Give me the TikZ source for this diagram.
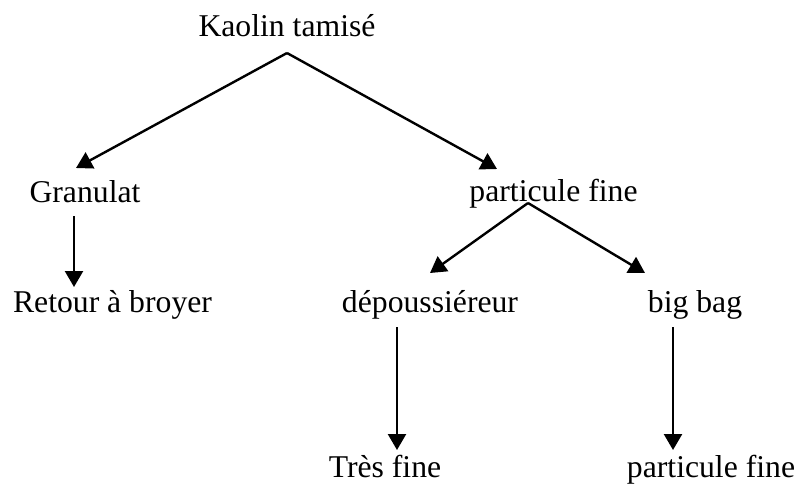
\documentclass[tikz,border=0pt]{standalone}
\usepackage{fontspec}
\setmainfont{Liberation Serif}
\usetikzlibrary{arrows.meta}
\begin{document}
\begin{tikzpicture}[x=1pt,y=-1pt,
  lbl/.style={anchor=base,inner sep=0pt,font=\fontsize{31.7}{36}\selectfont},
  arr/.style={line width=2.4pt,-{Triangle[width=18pt,length=16pt]}}]
\useasboundingbox (0,0) rectangle (803,483);
% labels
\node[lbl] (kaolin) at (287,36) {Kaolin tamisé};
\node[lbl] (gran) at (85,202) {Granulat};
\node[lbl] (pf1) at (553.5,201) {particule fine};
\node[lbl] (retour) at (112.5,312) {Retour à broyer};
\node[lbl] (depou) at (430,312) {dépoussiéreur};
\node[lbl] (bigbag) at (695,312) {big bag};
\node[lbl] (tres) at (385,477) {Très fine};
\node[lbl] (pf2) at (711,477) {particule fine};
% connector points
\coordinate (k0) at (287,53);
\coordinate (kL) at (76,168);
\coordinate (kR) at (497,169);
\coordinate (p0) at (528,203);
\coordinate (pL) at (430,273);
\coordinate (pR) at (645,273);
\coordinate (g0) at (74,216);
\coordinate (g1) at (74,287);
\coordinate (d0) at (397,327);
\coordinate (d1) at (397,450);
\coordinate (b0) at (673,327);
\coordinate (b1) at (673,450);
% connectors
\draw[arr] (k0) -- (kL);
\draw[arr] (k0) -- (kR);
\draw[arr] (p0) -- (pL);
\draw[arr] (p0) -- (pR);
\draw[arr] (g0) -- (g1);
\draw[arr] (d0) -- (d1);
\draw[arr] (b0) -- (b1);
\end{tikzpicture}
\end{document}
